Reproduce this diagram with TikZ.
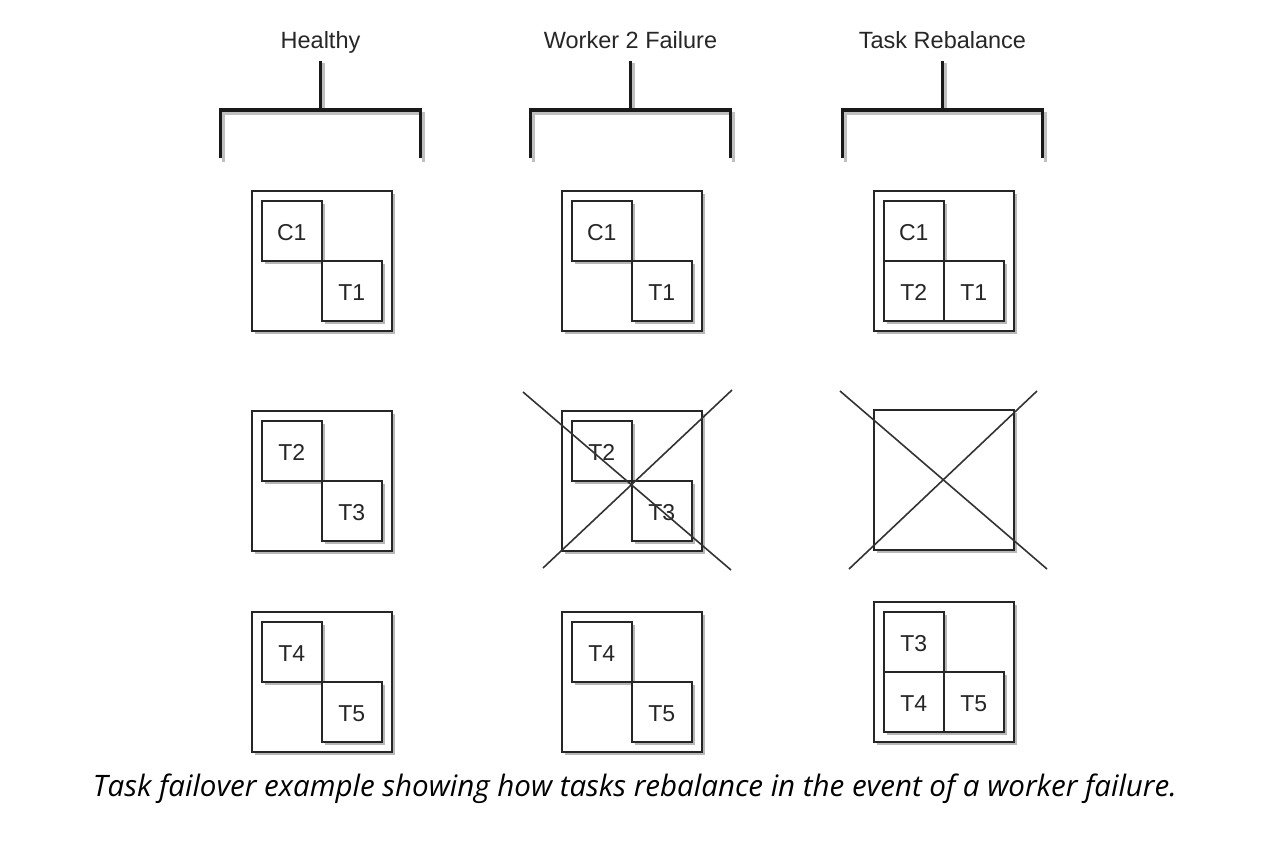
\documentclass[tikz,border=0pt]{standalone}
\usepackage{fontspec}
\setmainfont{Liberation Sans}
\newfontfamily\capfont{Open Sans}
\usetikzlibrary{shadows}
\begin{document}
\begin{tikzpicture}[x=1pt,y=-1pt,
  title/.style={font=\fontsize{23.5}{26}\selectfont, text=black!85, anchor=base},
  outerbox/.style={draw=black!85, line width=1.6pt, fill=white, anchor=north west,
     minimum width=140pt, minimum height=140pt, inner sep=0pt,
     drop shadow={shadow xshift=3.5pt, shadow yshift=-3.5pt, fill=black!35, opacity=0.8}},
  taskbox/.style={draw=black!85, line width=1.6pt, fill=white, anchor=north west,
     minimum width=60pt, minimum height=60pt, inner sep=0pt,
     font=\fontsize{23}{26}\selectfont, text=black!85, text height=19.5pt, text depth=0pt,
     drop shadow={shadow xshift=3.5pt, shadow yshift=-3.5pt, fill=black!35, opacity=0.8}},
  bracket/.style={line width=3.5pt, draw=black!90, line cap=butt, line join=miter},
  bshadow/.style={line width=3pt, draw=black!25, line cap=butt, line join=miter},
  cross/.style={line width=1.6pt, draw=black!80}
]
\useasboundingbox (0,0) rectangle (1278,844);

% titles and brackets
\foreach \cx/\name/\txt in {320.5/ta/Healthy, 630.5/tb/Worker 2 Failure, 942.5/tc/Task Rebalance}{
  \node[title] (\name) at (\cx,48) {\txt};
  \draw[bshadow] (\cx+3,63) -- (\cx+3,113) (\cx-97,162) -- (\cx-97,113) -- (\cx+103,113) -- (\cx+103,162);
  \draw[bracket] (\cx,61) -- (\cx,110) (\cx-100,158) -- (\cx-100,110) -- (\cx+100,110) -- (\cx+100,158);
}

% column 1: Healthy
\node[outerbox] (w1a) at (251,190) {};
\node[taskbox] (w1aC1) at (261,200) {C1};
\node[taskbox] (w1aT1) at (321,260) {T1};
\node[outerbox] (w1b) at (251,410) {};
\node[taskbox] (w1bT2) at (261,420) {T2};
\node[taskbox] (w1bT3) at (321,480) {T3};
\node[outerbox] (w1c) at (251,611) {};
\node[taskbox] (w1cT4) at (261,621) {T4};
\node[taskbox] (w1cT5) at (321,681) {T5};

% column 2: Worker 2 Failure
\node[outerbox] (w2a) at (561,190) {};
\node[taskbox] (w2aC1) at (571,200) {C1};
\node[taskbox] (w2aT1) at (631,260) {T1};
\node[outerbox] (w2b) at (561,410) {};
\node[taskbox] (w2bT2) at (571,420) {T2};
\node[taskbox] (w2bT3) at (631,480) {T3};
\node[outerbox] (w2c) at (561,611) {};
\node[taskbox] (w2cT4) at (571,621) {T4};
\node[taskbox] (w2cT5) at (631,681) {T5};
\coordinate (x2a) at (523,392);
\coordinate (x2b) at (731,570);
\coordinate (x2c) at (732,390);
\coordinate (x2d) at (543,568);
\draw[cross] (x2a) -- (x2b);
\draw[cross] (x2c) -- (x2d);

% column 3: Task Rebalance
\node[outerbox] (w3a) at (873,190) {};
\node[taskbox] (w3aC1) at (883,200) {C1};
\node[taskbox] (w3aT2) at (883,260) {T2};
\node[taskbox] (w3aT1) at (943,260) {T1};
\node[outerbox] (w3b) at (873,409) {};
\coordinate (x3a) at (840,391);
\coordinate (x3b) at (1047,569);
\coordinate (x3c) at (1037,391);
\coordinate (x3d) at (849,569);
\draw[cross] (x3a) -- (x3b);
\draw[cross] (x3c) -- (x3d);
\node[outerbox] (w3c) at (873,601) {};
\node[taskbox] (w3cT3) at (883,611) {T3};
\node[taskbox] (w3cT4) at (883,671) {T4};
\node[taskbox] (w3cT5) at (943,671) {T5};

% caption
\node (cap) at (635,789) {\resizebox{1084pt}{!}{\capfont\itshape\fontsize{28}{32}\selectfont Task failover example showing how tasks rebalance in the event of a worker failure.}};
\end{tikzpicture}
\end{document}
